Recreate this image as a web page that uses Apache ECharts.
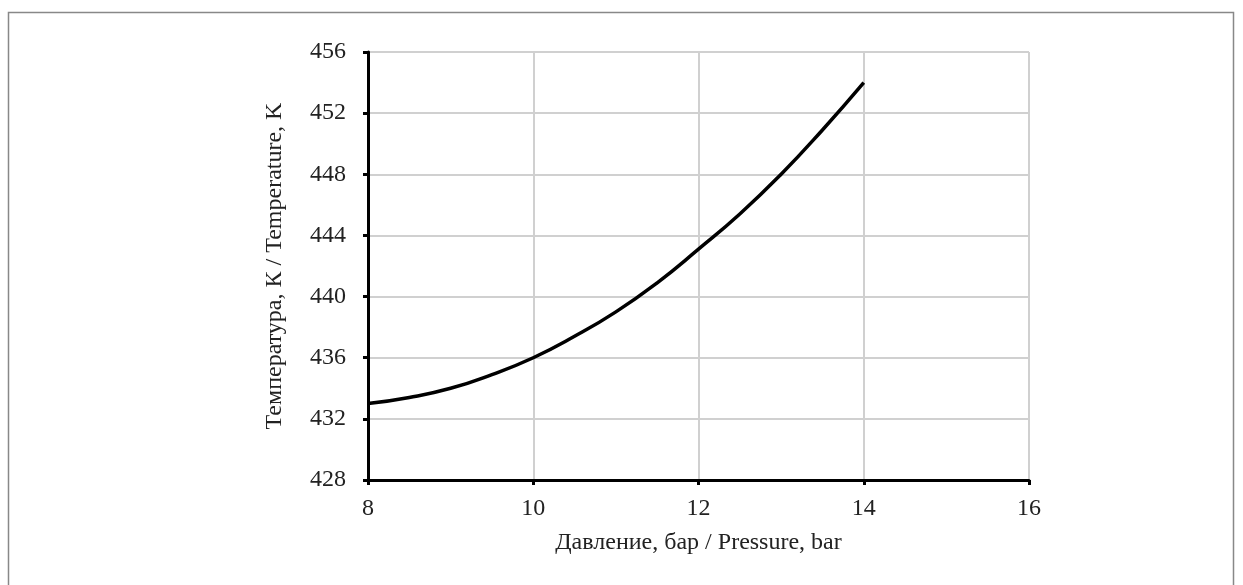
<!DOCTYPE html>
<html>
<head>
<meta charset="utf-8">
<script src="https://cdn.jsdelivr.net/npm/echarts@6/dist/echarts.min.js"></script>
<style>
  html, body { margin: 0; padding: 0; background: #fff; }
  #chart { width: 1243px; height: 585px; }
</style>
</head>
<body>
<div id="chart"></div>
<script>
// давление, бар
var pressure = [8, 8.5, 9, 9.5, 10, 10.5, 11, 11.5, 12, 12.5, 13, 13.5, 14];
// температура, К
var temperature = [433.0, 433.4, 434.0, 434.9, 436.0, 437.4, 439.0, 440.9, 443.1, 445.4, 448.0, 450.9, 454.0];

var xTicks = [8, 10, 12, 14, 16];
var yTicks = [428, 432, 436, 440, 444, 448, 452, 456];

var points = [];
for (var i = 0; i < pressure.length; i++) {
	points.push([pressure[i], temperature[i]]);
}

var font = 'Liberation Serif';
var myChart = echarts.init(document.getElementById('chart'));
var option = {
	backgroundColor: '#fff',
	animation: false,
	graphic: [{
		type: 'rect',
		silent: true,
		shape: { x: 8.5, y: 12.5, width: 1225, height: 600 },
		style: { fill: 'none', stroke: '#888', lineWidth: 1.5 }
	}],
	grid: {
		left: 368,
		right: 214,
		top: 52,
		bottom: 105
	},
	xAxis: {
		type: 'value',
		min: xTicks[0],
		max: xTicks[xTicks.length - 1],
		interval: 2,
		name: 'Давление, бар / Pressure, bar',
		nameLocation: 'middle',
		nameGap: 51,
		nameTextStyle: { fontFamily: font, fontSize: 24, color: '#222' },
		axisLine: { onZero: false, lineStyle: { color: '#000', width: 3 } },
		axisTick: { show: true, length: 5, lineStyle: { color: '#000', width: 3 } },
		axisLabel: { fontFamily: font, fontSize: 24, color: '#222', margin: 17 },
		splitLine: { show: true, lineStyle: { color: '#d0d0d0', width: 2 } }
	},
	yAxis: {
		type: 'value',
		min: yTicks[0],
		max: yTicks[yTicks.length - 1],
		interval: 4,
		name: 'Температура, К / Temperature, K',
		nameLocation: 'middle',
		nameGap: 81,
		nameTextStyle: { fontFamily: font, fontSize: 24, color: '#222' },
		axisLine: { onZero: false, lineStyle: { color: '#000', width: 3 } },
		axisTick: { show: true, length: 5, lineStyle: { color: '#000', width: 3 } },
		axisLabel: { fontFamily: font, fontSize: 24, color: '#222', margin: 22 },
		splitLine: { show: true, lineStyle: { color: '#d0d0d0', width: 2 } }
	},
	series: [{
		type: 'line',
		data: points,
		smooth: true,
		showSymbol: false,
		lineStyle: { color: '#000', width: 3.5 }
	}]
};
myChart.setOption(option);
</script>
</body>
</html>
